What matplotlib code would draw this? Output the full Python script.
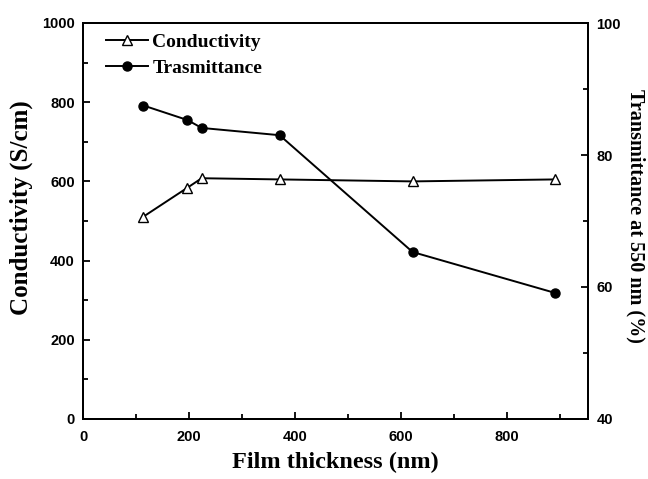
import matplotlib
matplotlib.use("Agg")
import matplotlib.pyplot as plt
from matplotlib.ticker import MultipleLocator

thickness = [114, 197, 224, 371, 622, 891]
conductivity = [511, 584, 608, 605, 600, 605]
transmittance = [87.5, 85.3, 84.1, 83.0, 65.3, 59.1]

serif = "Liberation Serif"
sans = "Liberation Sans"

fig = plt.figure(figsize=(6.48, 4.79), dpi=100)
ax = fig.add_axes([83 / 648, 60 / 479, 505 / 648, 396 / 479])
ax2 = ax.twinx()

l1, = ax.plot(thickness, conductivity, color="black", lw=1.4, marker="^",
              markersize=7, markerfacecolor="white", markeredgecolor="black",
              markeredgewidth=1.0, label="Conductivity")
l2, = ax2.plot(thickness, transmittance, color="black", lw=1.4, marker="o",
               markersize=6.5, markerfacecolor="black", label="Trasmittance")

ax.set_xlim(0, 953)
ax.set_ylim(0, 1000)
ax2.set_ylim(40, 100)

ax.xaxis.set_major_locator(MultipleLocator(200))
ax.xaxis.set_minor_locator(MultipleLocator(100))
ax.yaxis.set_major_locator(MultipleLocator(200))
ax.yaxis.set_minor_locator(MultipleLocator(100))
ax2.yaxis.set_major_locator(MultipleLocator(20))
ax2.yaxis.set_minor_locator(MultipleLocator(10))

for a in (ax, ax2):
    a.tick_params(which="major", direction="in", length=5, width=1.3, pad=6)
    a.tick_params(which="minor", direction="in", length=3.5, width=1.3)
    for lab in a.get_xticklabels() + a.get_yticklabels():
        lab.set_fontfamily(sans)
        lab.set_fontweight("bold")
        lab.set_fontsize(10.5)
    for s in a.spines.values():
        s.set_linewidth(1.4)
ax.tick_params(top=False, right=False)
ax.tick_params(axis="x", which="major", pad=8)
ax2.tick_params(which="both", right=True, left=False)

ax.set_xlabel("Film thickness (nm)", fontfamily=serif, fontweight="bold",
              fontsize=17.5, va="top")
ax.xaxis.set_label_coords(0.5, -0.082)
ax.set_ylabel("Conductivity (S/cm)", fontfamily=serif, fontweight="bold",
              fontsize=18)
ax.yaxis.set_label_coords(-0.1, 0.535)
ax2.set_ylabel("Transmittance at 550 nm (%)", fontfamily=serif,
               fontweight="bold", fontsize=14.5, rotation=270, va="bottom")
ax2.yaxis.set_label_coords(1.074, 0.513)

ax.legend(handles=[l1, l2], loc="upper left", bbox_to_anchor=(0.045, 0.975),
          frameon=False, borderpad=0, borderaxespad=0,
          prop={"family": serif, "weight": "bold", "size": 14},
          handlelength=2.15, handletextpad=0.25, labelspacing=0.45)

fig.savefig("out.png", dpi=100)
